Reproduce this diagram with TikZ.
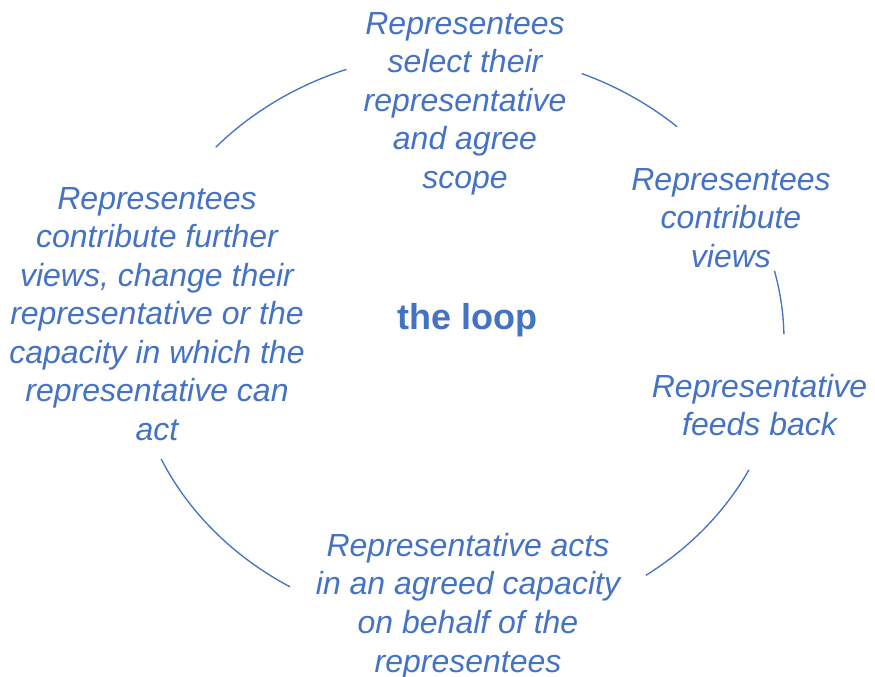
\documentclass[tikz,border=0pt]{standalone}
\usepackage{fontspec}
\setmainfont{Liberation Sans}
\usetikzlibrary{calc}
\definecolor{loopblue}{HTML}{4472C4}
\begin{document}
\begin{tikzpicture}[x=0.75pt,y=0.75pt,
  steptext/.style={anchor=north,inner sep=0pt,align=center,text=loopblue,
    font=\itshape\fontsize{24}{28.9}\selectfont},
  titletext/.style={anchor=base,inner sep=0pt,text=loopblue,
    font=\bfseries\fontsize{27}{32}\selectfont},
  loopline/.style={draw=loopblue,line width=1pt}]
\useasboundingbox (0,0) rectangle (875,677);

% centre of the cycle
\coordinate (c) at (458,337);

% stages of the loop
\node[steptext] (select) at (465,665)
  {Representees\\select their\\representative\\and agree\\scope};
\node[steptext] (views) at (731,509)
  {Representees\\contribute\\views};
\node[steptext] (feed) at (759.5,303)
  {Representative\\feeds back};
\node[steptext] (acts) at (468,144)
  {Representative acts\\in an agreed capacity\\on behalf of the\\representees};
\node[steptext] (further) at (157,490)
  {Representees\\contribute further\\views, change their\\representative or the\\capacity in which the\\representative can\\act};
\node[titletext] (title) at (467.5,347) {the loop};

% ends of the arcs joining the stages
\coordinate (s1) at ($(c)+(138:326 and 288)$);
\coordinate (s2) at ($(c)+(67.7:326 and 288)$);
\coordinate (s3) at ($(c)+(13.9:326 and 288)$);
\coordinate (s4) at ($(c)+(-26.8:326 and 288)$);
\coordinate (s5) at ($(c)+(239:326 and 288)$);

\draw[loopline] (s1) arc[start angle=138,end angle=110,x radius=326,y radius=288];
\draw[loopline] (s2) arc[start angle=67.7,end angle=47.8,x radius=326,y radius=288];
\draw[loopline] (s3) arc[start angle=13.9,end angle=1.1,x radius=326,y radius=288];
\draw[loopline] (s4) arc[start angle=-26.8,end angle=-54.8,x radius=326,y radius=288];
\draw[loopline] (s5) arc[start angle=239,end angle=204.4,x radius=326,y radius=288];
\end{tikzpicture}
\end{document}
